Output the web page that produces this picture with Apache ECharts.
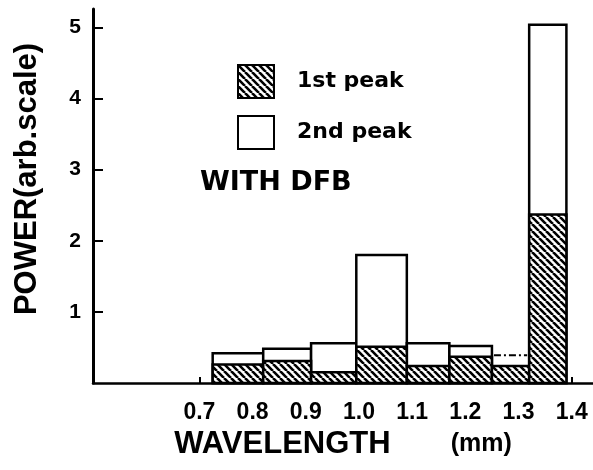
<!DOCTYPE html>
<html><head><meta charset="utf-8">
<script src="https://cdn.jsdelivr.net/npm/echarts@6/dist/echarts.min.js"></script>
<style>html,body{margin:0;padding:0;background:#fff}#c{width:593px;height:470px}</style>
</head><body><div id="c"></div><script>
// ---- data ----
const binStart   = [0.725, 0.82, 0.91, 0.995, 1.09, 1.17, 1.25, 1.32];
const binEnd     = [0.82, 0.91, 0.995, 1.09, 1.17, 1.25, 1.32, 1.39];
const firstPeak  = [0.26, 0.31, 0.15, 0.51, 0.24, 0.37, 0.24, 2.37];
const secondPeak = [0.42, 0.48, 0.56, 1.80, 0.56, 0.52, 0.39, 5.04];
const xTicks = [0.7, 0.8, 0.9, 1.0, 1.1, 1.2, 1.3, 1.4];
const yTicks = [1, 2, 3, 4, 5];

// ---- styling ----
const DASHED_BIN = 6; // this bin's 2nd-peak top is drawn only as a dash-dot line
function makeHatch() {
  const s = 7, c = document.createElement('canvas');
  c.width = s; c.height = s;
  const g = c.getContext('2d');
  g.fillStyle = '#fff'; g.fillRect(0, 0, s, s);
  g.strokeStyle = '#000'; g.lineWidth = 2.6;
  g.beginPath();
  for (const o of [-s, 0, s]) { g.moveTo(o, 0); g.lineTo(o + s, s); }
  g.stroke();
  return c;
}
const hatchImg = makeHatch();
const hatchFill = { image: hatchImg, repeat: 'repeat' };
const FONT = '"Liberation Sans", Arial, sans-serif';
const FONT2 = '"DejaVu Sans", sans-serif';

const whiteData = binStart.map((s, i) => [s, binEnd[i], secondPeak[i]]);
const hatchData = binStart.map((s, i) => [s, binEnd[i], firstPeak[i]]);

function rectItem(api, fill) {
  const x0 = api.value(0), x1 = api.value(1), v = api.value(2);
  const p0 = api.coord([x0, 0]), p1 = api.coord([x1, v]);
  return {
    type: 'rect',
    shape: { x: p0[0], y: p1[1], width: p1[0] - p0[0], height: p0[1] - p1[1] },
    style: { fill: fill, stroke: '#000', lineWidth: 2.5 }
  };
}

const chart = echarts.init(document.getElementById('c'), null, { renderer: 'canvas' });
chart.setOption({
  animation: false,
  backgroundColor: '#fff',
  grid: { left: 93, right: 0, top: 9, bottom: 87, containLabel: false, outerBoundsMode: 'none' },
  title: {
    text: 'WITH DFB', left: 195, top: 164,
    textStyle: { fontFamily: FONT2, fontWeight: 'bold', fontSize: 27, color: '#000' }
  },
  legend: {
    orient: 'vertical', left: 232, top: 59, itemGap: 16,
    itemWidth: 36, itemHeight: 33, icon: 'rect',
    textStyle: { fontFamily: FONT2, fontWeight: 'bold', fontSize: 22, color: '#000', padding: [0, 0, 0, 18] },
    data: [
      { name: '1st peak', itemStyle: { color: hatchFill, borderColor: '#000', borderWidth: 2 } },
      { name: '2nd peak', itemStyle: { color: '#fff', borderColor: '#000', borderWidth: 2 } }
    ]
  },
  xAxis: {
    type: 'value', min: 0.5, max: 1.44,
    name: '{a|WAVELENGTH}{b|(mm)}',
    nameLocation: 'middle', nameGap: 45,
    nameTextStyle: {
      rich: {
        a: { fontFamily: FONT, fontWeight: 'bold', fontSize: 31, color: '#000' },
        b: { fontFamily: FONT, fontWeight: 'bold', fontSize: 25, color: '#000', padding: [0, 0, 0, 60] }
      }
    },
    axisLine: { lineStyle: { color: '#000', width: 2.5 } },
    axisTick: { customValues: xTicks, inside: true, length: 6, lineStyle: { color: '#000', width: 2 } },
    axisLabel: {
      customValues: xTicks, formatter: v => v.toFixed(1), margin: 18,
      fontFamily: FONT, fontWeight: 'bold', fontSize: 23, color: '#000'
    },
    splitLine: { show: false }
  },
  yAxis: {
    type: 'value', min: 0, max: 5.26,
    name: 'POWER(arb.scale)', nameLocation: 'middle', nameGap: 50, nameRotate: 90,
    nameTextStyle: { fontFamily: FONT, fontWeight: 'bold', fontSize: 31, color: '#000', padding: [0, 0, 0, 34] },
    axisLine: { lineStyle: { color: '#000', width: 3 } },
    axisTick: { customValues: yTicks, inside: true, length: 10, lineStyle: { color: '#000', width: 2 } },
    axisLabel: {
      customValues: yTicks, margin: 12,
      fontFamily: FONT, fontWeight: 'bold', fontSize: 21, color: '#000'
    },
    splitLine: { show: false }
  },
  series: [
    {
      name: '2nd peak', type: 'custom', z: 2,
      itemStyle: { color: '#fff', borderColor: '#000', borderWidth: 2 },
      encode: { x: [0, 1], y: 2 },
      data: whiteData,
      renderItem: (params, api) => {
        if (params.dataIndex === DASHED_BIN) {
          const a = api.coord([api.value(0), api.value(2)]);
          const b = api.coord([api.value(1), api.value(2)]);
          return {
            type: 'line',
            shape: { x1: a[0] + 2, y1: a[1], x2: b[0] - 2, y2: b[1] },
            style: { stroke: '#000', lineWidth: 2, lineDash: [7, 3, 2, 3] }
          };
        }
        return rectItem(api, '#fff');
      }
    },
    {
      name: '1st peak', type: 'custom', z: 3,
      itemStyle: { color: hatchFill, borderColor: '#000', borderWidth: 2 },
      encode: { x: [0, 1], y: 2 },
      data: hatchData,
      renderItem: (params, api) => rectItem(api, hatchFill)
    }
  ]
});
</script></body></html>
